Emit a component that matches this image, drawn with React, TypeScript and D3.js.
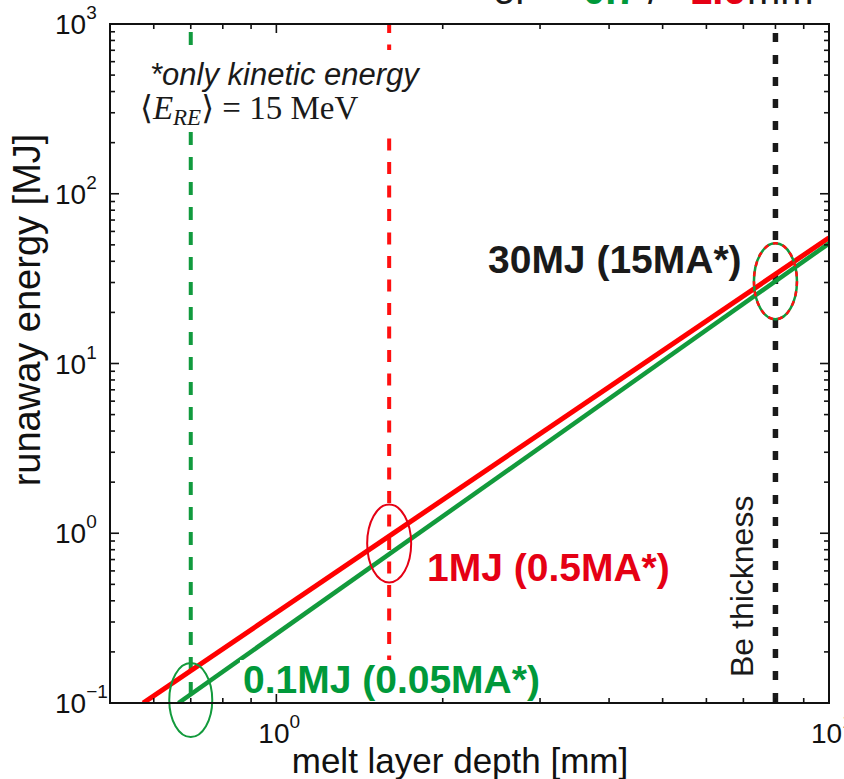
import React from "react";
import * as d3 from "d3";

// Canvas and plot frame
const W = 844;
const H = 779;
const FRAME = { left: 110, right: 829, top: 24, bottom: 703 };

// Axis domains (log–log)
const X_DOMAIN = [0.5, 10];
const Y_DOMAIN = [0.1, 1000];
const X_MAJOR = [1, 10];
const Y_MAJOR = [0.1, 1, 10, 100, 1000];
const X_TICK_EXP = ["0", "1"];
const Y_TICK_EXP = ["\u22121", "0", "1", "2", "3"];

// Runaway energy vs melt layer depth, two wall materials
const redDepth = [0.574, 10];
const redEnergy = [0.1, 55];
const greenDepth = [0.665, 10];
const greenEnergy = [0.1, 51];

// Reference depths (dashed verticals)
const refDepths = [0.7, 1.6, 8];
const refColors = ["#119a3e", "#ff1010", "#1a1a1a"];

// Circled operating points
const markDepth = [0.7, 1.6, 8];
const markEnergy = [0.104, 0.87, 30.5];

// Point labels
const pointLabels = ["0.1MJ (0.05MA*)", "1MJ (0.5MA*)", "30MJ (15MA*)"];
const pointLabelColors = ["#00993a", "#e50014", "#1a1a1a"];

const SANS = "'Liberation Sans', Arial, sans-serif";
const SERIF = "'Liberation Serif', 'DejaVu Serif', serif";

export default function App() {
  const x = d3.scaleLog().domain(X_DOMAIN).range([FRAME.left, FRAME.right]);
  const y = d3.scaleLog().domain(Y_DOMAIN).range([FRAME.bottom, FRAME.top]);

  const xMinor = x.ticks().filter((t) => !X_MAJOR.some((m) => Math.abs(m - t) < 1e-9));
  const yMinor = y.ticks().filter((t) => !Y_MAJOR.some((m) => Math.abs(m - t) < 1e-9));

  const line = d3
    .line<[number, number]>()
    .x((d) => x(d[0]))
    .y((d) => y(d[1]));

  const redPts = redDepth.map((d, i) => [d, redEnergy[i]] as [number, number]);
  const greenPts = greenDepth.map((d, i) => [d, greenEnergy[i]] as [number, number]);

  const MAJ = 9;
  const MIN = 5;

  return (
    <svg
      width={W}
      height={H}
      style={{ position: "absolute", left: 0, top: 0, background: "#fff" }}
      fontFamily={SANS}
    >
      <defs>
        <clipPath id="plotArea">
          <rect
            x={FRAME.left}
            y={FRAME.top}
            width={FRAME.right - FRAME.left}
            height={FRAME.bottom - FRAME.top}
          />
        </clipPath>
      </defs>

      {/* Title line, running off the top of the canvas */}
      <text y={4} fontSize={40} fill="#1a1a1a">
        <tspan x={493}>or</tspan>
        <tspan x={583} fill="#00993a" fontWeight="bold">0.7</tspan>
        <tspan x={648}>/</tspan>
        <tspan x={690} fill="#e50014" fontWeight="bold">1.6</tspan>
        <tspan x={747}>mm</tspan>
      </text>

      {/* Dashed reference depths */}
      <g clipPath="url(#plotArea)">
        <line
          x1={x(refDepths[0])}
          x2={x(refDepths[0])}
          y1={FRAME.top}
          y2={FRAME.bottom}
          stroke={refColors[0]}
          strokeWidth={4}
          strokeDasharray="13 12"
          strokeDashoffset={17}
        />
        <line
          x1={x(refDepths[1])}
          x2={x(refDepths[1])}
          y1={FRAME.top}
          y2={FRAME.bottom}
          stroke={refColors[1]}
          strokeWidth={4}
          strokeDasharray="12 11.5"
          strokeDashoffset={3}
        />
        <line
          x1={x(refDepths[2])}
          x2={x(refDepths[2])}
          y1={FRAME.top}
          y2={FRAME.bottom}
          stroke={refColors[2]}
          strokeWidth={5.5}
          strokeDasharray="9 13"
          strokeDashoffset={13}
        />
      </g>

      {/* Annotation box */}
      <rect x={138} y={50} width={298} height={82} fill="#fff" />
      <text x={150} y={85} fontSize={31} fontStyle="italic" fill="#1a1a1a">
        *only kinetic energy
      </text>
      <text x={140} y={119} fontSize={33} fontFamily={SERIF} fill="#1a1a1a">
        <tspan>{"\u27E8"}</tspan>
        <tspan fontStyle="italic">E</tspan>
        <tspan fontStyle="italic" fontSize={23} dy={6}>RE</tspan>
        <tspan dy={-6}>{"\u27E9"}</tspan>
        <tspan>{" = 15 MeV"}</tspan>
      </text>

      {/* Energy curves */}
      <g clipPath="url(#plotArea)">
        <path d={line(redPts) ?? ""} fill="none" stroke="#ff0000" strokeWidth={5} />
        <path d={line(greenPts) ?? ""} fill="none" stroke="#129a3c" strokeWidth={4.5} />
      </g>

      {/* Circled points */}
      <ellipse
        cx={x(markDepth[0])}
        cy={y(markEnergy[0])}
        rx={21.5}
        ry={37}
        fill="none"
        stroke="#129a3c"
        strokeWidth={2}
      />
      <ellipse
        cx={x(markDepth[1])}
        cy={y(markEnergy[1])}
        rx={22}
        ry={39}
        fill="none"
        stroke="#e50014"
        strokeWidth={2}
      />
      <ellipse
        cx={x(markDepth[2])}
        cy={y(markEnergy[2])}
        rx={21.5}
        ry={38}
        fill="none"
        stroke="#129a3c"
        strokeWidth={2.5}
      />
      <ellipse
        cx={x(markDepth[2])}
        cy={y(markEnergy[2])}
        rx={21.5}
        ry={38}
        fill="none"
        stroke="#ff1010"
        strokeWidth={2.5}
        strokeDasharray="5 5"
      />

      {/* Point labels */}
      <rect x={240} y={660} width={306} height={40} fill="#fff" />
      <text x={243} y={693} fontSize={39} fontWeight="bold" fill={pointLabelColors[0]}>
        {pointLabels[0]}
      </text>
      <text x={427} y={581} fontSize={39} fontWeight="bold" fill={pointLabelColors[1]}>
        {pointLabels[1]}
      </text>
      <text x={488} y={273} fontSize={39} fontWeight="bold" fill={pointLabelColors[2]}>
        {pointLabels[2]}
      </text>

      <text
        transform={`translate(753,677) rotate(-90)`}
        fontSize={32}
        fill="#1a1a1a"
      >
        Be thickness
      </text>

      {/* Frame */}
      <rect
        x={FRAME.left}
        y={FRAME.top}
        width={FRAME.right - FRAME.left}
        height={FRAME.bottom - FRAME.top}
        fill="none"
        stroke="#111"
        strokeWidth={2}
      />

      {/* Ticks (inward, all four sides) */}
      <g stroke="#111" strokeWidth={1.6}>
        {X_MAJOR.map((t) => (
          <g key={`xM${t}`}>
            <line x1={x(t)} x2={x(t)} y1={FRAME.bottom} y2={FRAME.bottom - MAJ} />
            <line x1={x(t)} x2={x(t)} y1={FRAME.top} y2={FRAME.top + MAJ} />
          </g>
        ))}
        {xMinor.map((t) => (
          <g key={`xm${t}`}>
            <line x1={x(t)} x2={x(t)} y1={FRAME.bottom} y2={FRAME.bottom - MIN} />
            <line x1={x(t)} x2={x(t)} y1={FRAME.top} y2={FRAME.top + MIN} />
          </g>
        ))}
        {Y_MAJOR.map((t) => (
          <g key={`yM${t}`}>
            <line y1={y(t)} y2={y(t)} x1={FRAME.left} x2={FRAME.left + MAJ} />
            <line y1={y(t)} y2={y(t)} x1={FRAME.right} x2={FRAME.right - MAJ} />
          </g>
        ))}
        {yMinor.map((t) => (
          <g key={`ym${t}`}>
            <line y1={y(t)} y2={y(t)} x1={FRAME.left} x2={FRAME.left + MIN} />
            <line y1={y(t)} y2={y(t)} x1={FRAME.right} x2={FRAME.right - MIN} />
          </g>
        ))}
      </g>

      {/* Y tick labels */}
      {Y_MAJOR.map((t, i) => (
        <text key={`yl${t}`} y={y(t) + 10} fontSize={28} fill="#111">
          <tspan x={55}>10</tspan>
          <tspan fontSize={19} dy={-15}>{Y_TICK_EXP[i]}</tspan>
        </text>
      ))}

      {/* X tick labels */}
      {X_MAJOR.map((t, i) => (
        <text key={`xl${t}`} x={x(t) - 18} y={743} fontSize={28} fill="#111">
          <tspan>10</tspan>
          <tspan fontSize={19} dy={-15}>{X_TICK_EXP[i]}</tspan>
        </text>
      ))}

      {/* Axis titles */}
      <text x={460} y={773} fontSize={35} textAnchor="middle" fill="#111">
        melt layer depth [mm]
      </text>
      <text
        transform={`translate(40,310) rotate(-90)`}
        fontSize={38}
        textAnchor="middle"
        fill="#111"
      >
        runaway energy [MJ]
      </text>
    </svg>
  );
}
